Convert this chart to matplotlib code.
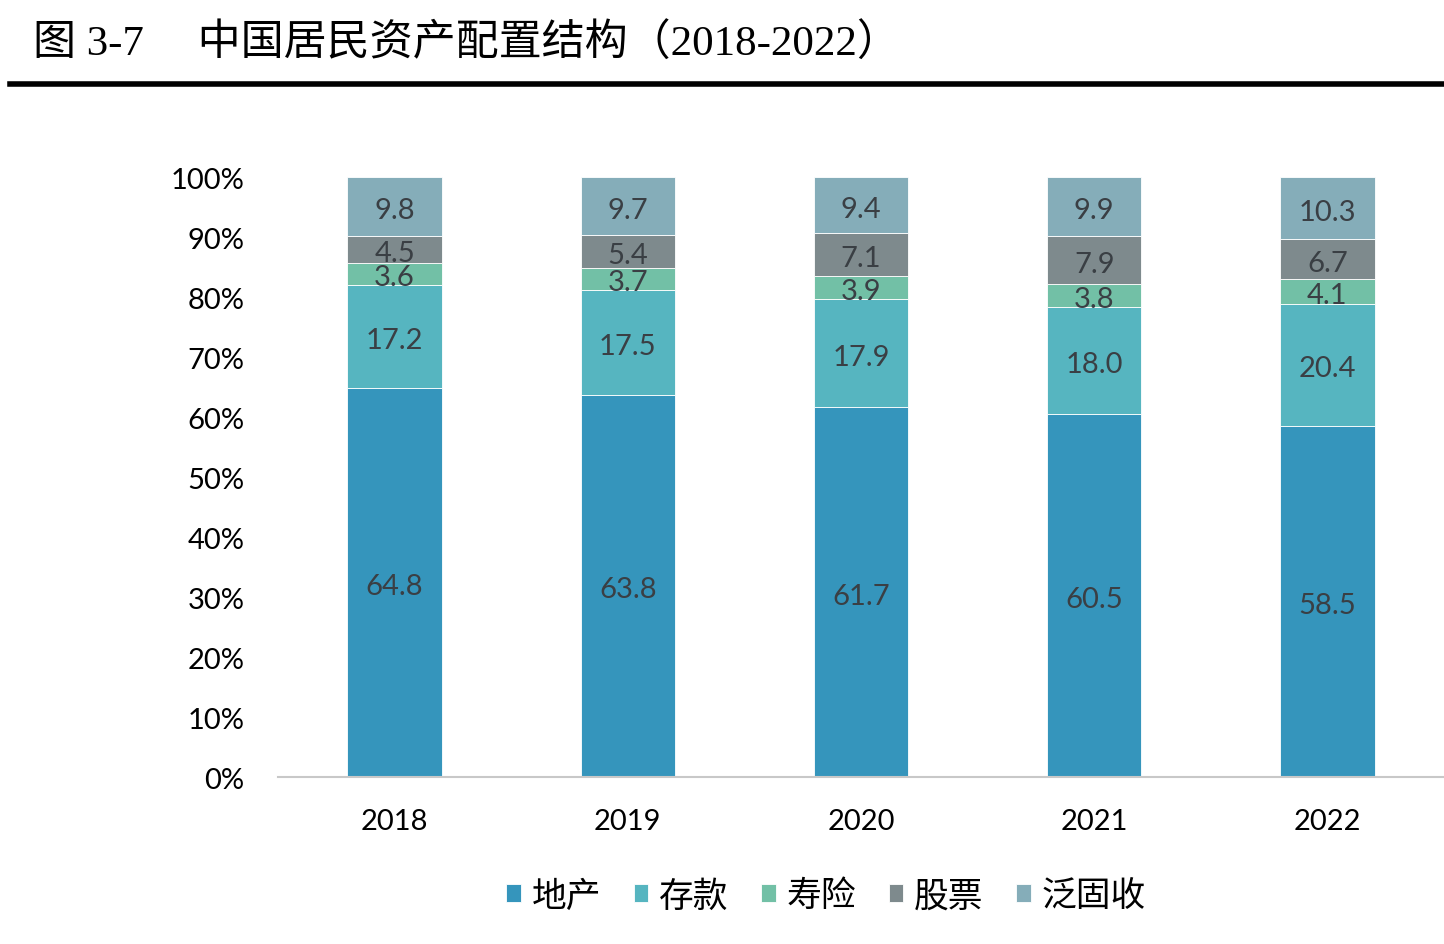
import numpy as np
import matplotlib.pyplot as plt
from matplotlib.lines import Line2D

plt.rcParams['font.family'] = ['Lato', 'Noto Sans CJK SC', 'DejaVu Sans']

years = ['2018', '2019', '2020', '2021', '2022']
series_names = ['地产', '存款', '寿险', '股票', '泛固收']
property_vals = [64.8, 63.8, 61.7, 60.5, 58.5]
deposit_vals = [17.2, 17.5, 17.9, 18.0, 20.4]
insurance_vals = [3.6, 3.7, 3.9, 3.8, 4.1]
stock_vals = [4.5, 5.4, 7.1, 7.9, 6.7]
fixed_income_vals = [9.8, 9.7, 9.4, 9.9, 10.3]
colors = ['#3595BC', '#56B5C0', '#72C0A6', '#7E8A8D', '#85ADB9']


def plot_stacked(ax):
    data = np.array([property_vals, deposit_vals, insurance_vals,
                     stock_vals, fixed_income_vals])
    totals = data.sum(axis=0)
    share = data / totals * 100
    x = np.arange(len(years))
    bottom = np.zeros(len(years))
    for i in range(len(series_names)):
        ax.bar(x, share[i], 0.405, bottom=bottom, color=colors[i],
               label=series_names[i], edgecolor='white', linewidth=0.6)
        for j in range(len(years)):
            ax.text(x[j], bottom[j] + share[i][j] / 2 - 0.6, '%.1f' % data[i][j],
                    ha='center', va='center', fontsize=21, color='#3a3f44')
        bottom += share[i]

    ax.set_xlim(-0.5, 4.5)
    ax.set_ylim(0, 100)
    ax.set_yticks(np.arange(0, 101, 10))
    ax.set_yticklabels(['%d%%' % v for v in range(0, 101, 10)])
    ax.set_xticks(x)
    ax.set_xticklabels(years)
    ax.tick_params(length=0, labelsize=21, colors='black')
    ax.tick_params(axis='x', pad=22)
    ax.tick_params(axis='y', pad=24)
    for s in ['top', 'right', 'left']:
        ax.spines[s].set_visible(False)
    ax.spines['bottom'].set_color('#c8c8c8')
    ax.spines['bottom'].set_linewidth(1.5)


fig = plt.figure(figsize=(14.44, 9.45), dpi=100)
ax = fig.add_axes([0.1925, 0.1767, 0.8075, 0.6349])
plot_stacked(ax)

fig.text(0.023, 0.953, '图 3-7     中国居民资产配置结构（2018-2022）',
         fontsize=31, va='center', ha='left', fontweight='medium',
         family=['Liberation Serif', 'Noto Sans CJK SC', 'DejaVu Sans'])
fig.add_artist(Line2D([0.007, 1.0], [1 - 85 / 945, 1 - 85 / 945],
                      color='black', linewidth=4))

fig.legend(loc='center', bbox_to_anchor=(0.572, 1 - 897 / 945), ncol=5,
           frameon=False, handlelength=0.42, handleheight=0.42,
           handletextpad=0.3, columnspacing=0.95,
           prop={'family': 'Noto Sans CJK SC', 'size': 25})

plt.savefig('out.png', dpi=100)
